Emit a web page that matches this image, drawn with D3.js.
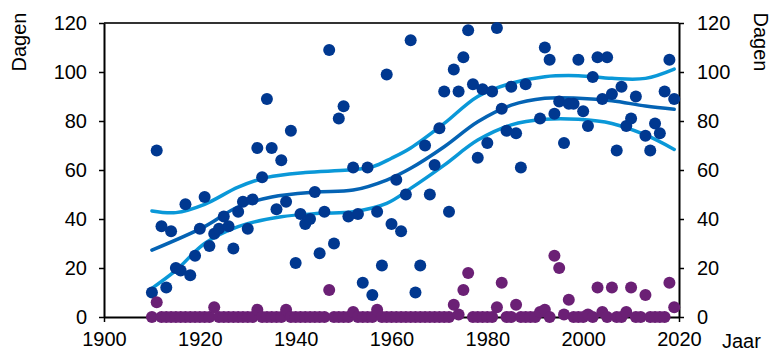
<!DOCTYPE html>
<html><head><meta charset="utf-8">
<script src="https://cdn.jsdelivr.net/npm/d3@7/dist/d3.min.js"></script>
<style>body{margin:0;background:#fff;} text{font-family:"Liberation Sans",Arial,sans-serif;}</style>
</head><body><svg id="c" width="774" height="355"></svg>
<script>
const blueYears = [1910,1911,1912,1913,1914,1915,1916,1917,1918,1919,1920,1921,1922,1923,1924,1925,1926,1927,1928,1929,1930,1931,1932,1933,1934,1935,1936,1937,1938,1939,1940,1941,1942,1943,1944,1945,1946,1947,1948,1949,1950,1951,1952,1953,1954,1955,1956,1957,1958,1959,1960,1961,1962,1963,1964,1965,1966,1967,1968,1969,1970,1971,1972,1973,1974,1975,1976,1977,1978,1979,1980,1981,1982,1983,1984,1985,1986,1987,1988,1991,1992,1993,1994,1995,1996,1997,1998,1999,2000,2001,2002,2003,2004,2005,2006,2007,2008,2009,2010,2011,2013,2014,2015,2016,2017,2018,2019];
const blueValues = [10,68,37,12,35,20,19,46,17,25,36,49,29,34,36,41,37,28,43,47,36,48,69,57,89,69,44,64,47,76,22,42,38,40,51,26,43,109,30,81,86,41,61,42,14,61,9,43,21,99,38,56,35,50,113,10,21,70,50,62,77,92,43,101,92,106,117,95,65,93,71,92,118,85,76,94,75,61,95,81,110,105,83,88,71,87,87,105,84,78,98,106,89,106,91,68,94,78,81,90,74,68,79,75,92,105,89];
const purpleYears = d3.range(1910, 2020);
const purpleNonZero = {1911:6,1923:4,1932:3,1938:3,1947:11,1952:2,1957:3,1973:5,1974:1,1975:11,1976:18,1982:4,1983:14,1986:5,1991:2,1992:3,1994:25,1995:20,1996:1,1997:7,2001:1,2003:12,2004:2,2006:12,2009:2,2010:12,2013:9,2018:14,2019:4};
const purpleValues = purpleYears.map(y => purpleNonZero[y] || 0);

const upperYears = [1910,1915,1921,1928,1934,1942,1951,1956,1960,1964,1971,1978,1985,1992,1999,2006,2013,2019];
const upperValues = [43.3,42.6,46,53,57,59,60,61.3,64.8,69,79,90,95.4,98.1,98.5,97.4,97.4,101.2];
const midYears = [1910,1921,1928,1935,1944,1952,1959,1964,1971,1978,1985,1992,1999,2006,2013,2019];
const midValues = [27.3,36.9,45,49,51,51.8,55.9,60.7,69.5,79.7,86.5,89.3,89.3,88.3,86.1,84.8];
const lowerYears = [1910,1915,1921,1928,1937,1945,1952,1959,1964,1971,1978,1985,1992,1999,2006,2013,2019];
const lowerValues = [11.7,19,30,36.9,40.9,42.3,43,46.4,52.5,62,72.2,78.4,80.7,80.7,79,74.3,68.4];

const xTicks = [1900,1920,1940,1960,1980,2000,2020];
const yTicks = [0,20,40,60,80,100,120];

const svg = d3.select("#c");
const x = d3.scaleLinear().domain([1900,2020]).range([104,679]);
const y = d3.scaleLinear().domain([0,120]).range([317,23]);
const FS = 20;

// top border
svg.append("line").attr("x1",x(1900)).attr("x2",x(2020)).attr("y1",y(120)).attr("y2",y(120))
  .attr("stroke","#333").attr("stroke-width",2);

function styleAxis(g){
  g.selectAll("path").attr("stroke","#000").attr("stroke-width",2);
  g.selectAll("line").attr("stroke","#000").attr("stroke-width",1.5);
  g.selectAll("text").attr("font-size",FS).attr("fill","#000").style("font-family","'Liberation Sans',Arial,sans-serif");
}
const gl = svg.append("g").attr("transform",`translate(${x(1900)},0)`)
  .call(d3.axisLeft(y).tickValues(yTicks).tickSize(5).tickSizeOuter(0).tickPadding(12));
styleAxis(gl);
const gr = svg.append("g").attr("transform",`translate(${x(2020)},0)`)
  .call(d3.axisRight(y).tickValues(yTicks).tickSize(5).tickSizeOuter(0).tickPadding(13));
styleAxis(gr);
const gb = svg.append("g").attr("transform",`translate(0,${y(0)})`)
  .call(d3.axisBottom(x).tickValues(xTicks).tickFormat(d3.format("d")).tickSize(5).tickSizeOuter(0).tickPadding(10));
styleAxis(gb);

// axis titles
svg.append("text").attr("transform","translate(26,42) rotate(-90)").attr("text-anchor","middle")
  .attr("font-size",FS).text("Dagen");
svg.append("text").attr("transform","translate(754,42) rotate(90)").attr("text-anchor","middle")
  .attr("font-size",FS).text("Dagen");
svg.append("text").attr("x",722).attr("y",y(0)+31).attr("font-size",FS).text("Jaar");

// lines
const line = d3.line().x(d=>x(d[0])).y(d=>y(d[1])).curve(d3.curveCatmullRom.alpha(0.5));
const lines = [
  {yrs:upperYears, vals:upperValues, color:"#0A98D8"},
  {yrs:lowerYears, vals:lowerValues, color:"#0A98D8"},
  {yrs:midYears, vals:midValues, color:"#0463B4"}
];
lines.forEach(l=>{
  svg.append("path").datum(l.yrs.map((yr,i)=>[yr,l.vals[i]]))
    .attr("d",line).attr("fill","none").attr("stroke",l.color).attr("stroke-width",3.5).attr("stroke-linecap","round");
});

// dots
svg.append("g").selectAll("circle").data(blueYears.map((yr,i)=>[yr,blueValues[i]])).join("circle")
  .attr("cx",d=>x(d[0])).attr("cy",d=>y(d[1])).attr("r",6).attr("fill","#003890");
svg.append("g").selectAll("circle").data(purpleYears.map((yr,i)=>[yr,purpleValues[i]])).join("circle")
  .attr("cx",d=>x(d[0])).attr("cy",d=>y(d[1])).attr("r",6).attr("fill","#6B2075");
</script></body></html>
